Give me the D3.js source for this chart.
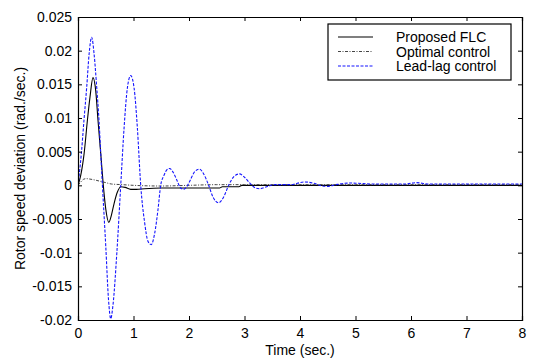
<!DOCTYPE html>
<html>
<head>
<meta charset="utf-8">
<script src="https://cdn.jsdelivr.net/npm/d3@7"></script>
<style>
    body { margin: 0; background: #fff; }
    text { font-family: "Liberation Sans", Arial, sans-serif; }
</style>
</head>
<body>
<svg id="chart"></svg>
<script>
// time samples (sec.) and rotor speed deviation (rad./sec.)
let flcTime = [0, 0.05, 0.11, 0.17, 0.216, 0.27, 0.32, 0.36, 0.41, 0.456, 0.5, 0.555, 0.6, 0.65, 0.71, 0.77, 0.85, 0.95, 1.05, 1.2, 1.5, 2.0, 2.55, 2.6, 2.9, 2.95, 4, 6, 8];
let flcValue = [0, 0.0015, 0.0047, 0.0097, 0.0131, 0.016, 0.014, 0.0097, 0.0047, 0, -0.0035, -0.0055, -0.0045, -0.0027, -0.001, -0.0002, -0.0003, -0.0006, -0.0006, -0.0005, -0.0004, -0.0004, -0.0004, -0.0002, -0.0002, 0, 0, 0, 0];

let optTime = [0, 0.05, 0.1, 0.15, 0.2, 0.3, 0.4, 0.5, 0.6, 0.8, 1.0, 1.5, 2.0, 2.5, 3.0, 5.0, 8.0];
let optValue = [0, 0.0005, 0.0009, 0.001, 0.00095, 0.0008, 0.0006, 0.0004, 0.0002, 0.0001, 0, -0.0001, 0, 0.0001, 0.0001, 0.0001, 0.0001];

let leadTime = [0, 0.06, 0.108, 0.157, 0.2, 0.246, 0.29, 0.337, 0.378, 0.41, 0.44, 0.5, 0.55, 0.59, 0.63, 0.7, 0.77, 0.83, 0.89, 0.95, 1.01, 1.07, 1.13, 1.2, 1.26, 1.32, 1.38, 1.44, 1.49, 1.55, 1.6, 1.65, 1.71, 1.78, 1.84, 1.9, 1.96, 2.03, 2.1, 2.19, 2.27, 2.35, 2.43, 2.53, 2.62, 2.72, 2.82, 2.91, 3.0, 3.1, 3.2, 3.28, 3.4, 3.55, 3.7, 3.85, 3.95, 4.09, 4.25, 4.4, 4.5, 4.65, 4.8, 4.9, 5.05, 5.3, 5.6, 5.9, 6.1, 6.3, 7.0, 8.0];
let leadValue = [0, 0.0047, 0.0097, 0.0146, 0.0195, 0.022, 0.0195, 0.0146, 0.0097, 0.0047, 0, -0.009, -0.017, -0.0198, -0.0178, -0.01, 0, 0.0085, 0.0145, 0.0163, 0.0145, 0.0085, 0, -0.0055, -0.0083, -0.0088, -0.0072, -0.0037, 0, 0.0015, 0.0023, 0.0025, 0.002, 0.0008, -0.0003, -0.0006, -0.0002, 0.0009, 0.002, 0.0024, 0.0016, 0.0001, -0.0017, -0.0026, -0.0018, 0.0001, 0.0014, 0.0017, 0.0012, 0.0003, -0.0004, -0.0005, -0.0002, 0.0001, 0.0001, 0.0001, 0.0003, 0.0005, 0.0003, -0.0001, -0.00015, 0.0001, 0.0003, 0.00034, 0.0003, 0.0002, 0.0002, 0.0002, 0.0004, 0.0002, 0.0002, 0.0002];

let xTicks = [0, 1, 2, 3, 4, 5, 6, 7, 8];
let yTicks = [-0.02, -0.015, -0.01, -0.005, 0, 0.005, 0.01, 0.015, 0.02, 0.025];
let yTickLabels = ["-0.02", "-0.015", "-0.01", "-0.005", "0", "0.005", "0.01", "0.015", "0.02", "0.025"];
let legendNames = ["Proposed FLC", "Optimal control", "Lead-lag control"];

let width = 538, height = 358;
let margin = { top: 17, right: 16, bottom: 38, left: 78 };

let svg = d3.select("#chart")
    .attr("width", width)
    .attr("height", height);

let x = d3.scaleLinear().domain([0, 8]).range([margin.left, width - margin.right]);
let y = d3.scaleLinear().domain([-0.02, 0.025]).range([height - margin.bottom, margin.top]);

let series = [
    { t: flcTime, v: flcValue, color: "#000", dash: null, width: 1.1 },
    { t: optTime, v: optValue, color: "#444", dash: "3,1.5,1,1.5", width: 1 },
    { t: leadTime, v: leadValue, color: "#1515ff", dash: "3,1.5", width: 1.1 }
];

let line = d3.line()
    .x(function (d) { return x(d[0]); })
    .y(function (d) { return y(d[1]); })
    .curve(d3.curveMonotoneX);

let clip = svg.append("clipPath").attr("id", "clip")
    .append("rect")
    .attr("x", x(0)).attr("y", y(0.025))
    .attr("width", x(8) - x(0)).attr("height", y(-0.02) - y(0.025));

let plot = svg.append("g").attr("clip-path", "url(#clip)");

series.forEach(function (s) {
    plot.append("path")
        .datum(s.t.map(function (t, i) { return [t, s.v[i]]; }))
        .attr("d", line)
        .attr("fill", "none")
        .attr("stroke", s.color)
        .attr("stroke-width", s.width)
        .attr("stroke-dasharray", s.dash);
});

// axes, ticks pointing inward on all four sides
let fontSize = 14;
let xAxis = svg.append("g")
    .attr("transform", "translate(0," + y(-0.02) + ")")
    .call(d3.axisBottom(x).tickValues(xTicks).tickSize(-4).tickPadding(8));
let xTop = svg.append("g")
    .attr("transform", "translate(0," + y(0.025) + ")")
    .call(d3.axisTop(x).tickValues(xTicks).tickSize(-4).tickFormat(""));
let yAxis = svg.append("g")
    .attr("transform", "translate(" + x(0) + ",0)")
    .call(d3.axisLeft(y).tickValues(yTicks).tickSize(-4).tickPadding(6)
        .tickFormat(function (d, i) { return yTickLabels[i]; }));
let yRight = svg.append("g")
    .attr("transform", "translate(" + x(8) + ",0)")
    .call(d3.axisRight(y).tickValues(yTicks).tickSize(-4).tickFormat(""));

[xAxis, xTop, yAxis, yRight].forEach(function (g) {
    g.select(".domain").attr("stroke", "#000").attr("stroke-width", 1.2);
    g.selectAll(".tick line").attr("stroke", "#000");
    g.selectAll("text")
        .attr("font-size", fontSize + "px")
        .attr("font-family", "Liberation Sans, Arial, sans-serif")
        .attr("fill", "#000");
});

svg.append("text")
    .attr("x", (x(0) + x(8)) / 2)
    .attr("y", 355)
    .attr("text-anchor", "middle")
    .attr("font-size", fontSize + "px")
    .text("Time (sec.)");

svg.append("text")
    .attr("transform", "translate(25," + ((y(-0.02) + y(0.025)) / 2) + ") rotate(-90)")
    .attr("text-anchor", "middle")
    .attr("font-size", fontSize + "px")
    .text("Rotor speed deviation (rad./sec.)");

// legend
let legend = svg.append("g");
legend.append("rect")
    .attr("x", 328).attr("y", 24)
    .attr("width", 183).attr("height", 56)
    .attr("fill", "#fff")
    .attr("stroke", "#000")
    .attr("stroke-width", 1.2);

legendNames.forEach(function (name, i) {
    let ly = 37 + i * 14.5;
    legend.append("line")
        .attr("x1", 338).attr("x2", 373)
        .attr("y1", ly).attr("y2", ly)
        .attr("stroke", series[i].color)
        .attr("stroke-width", series[i].width)
        .attr("stroke-dasharray", series[i].dash);
    legend.append("text")
        .attr("x", 396).attr("y", ly + 5)
        .attr("font-size", fontSize + "px")
        .text(name);
});
</script>
</body>
</html>
